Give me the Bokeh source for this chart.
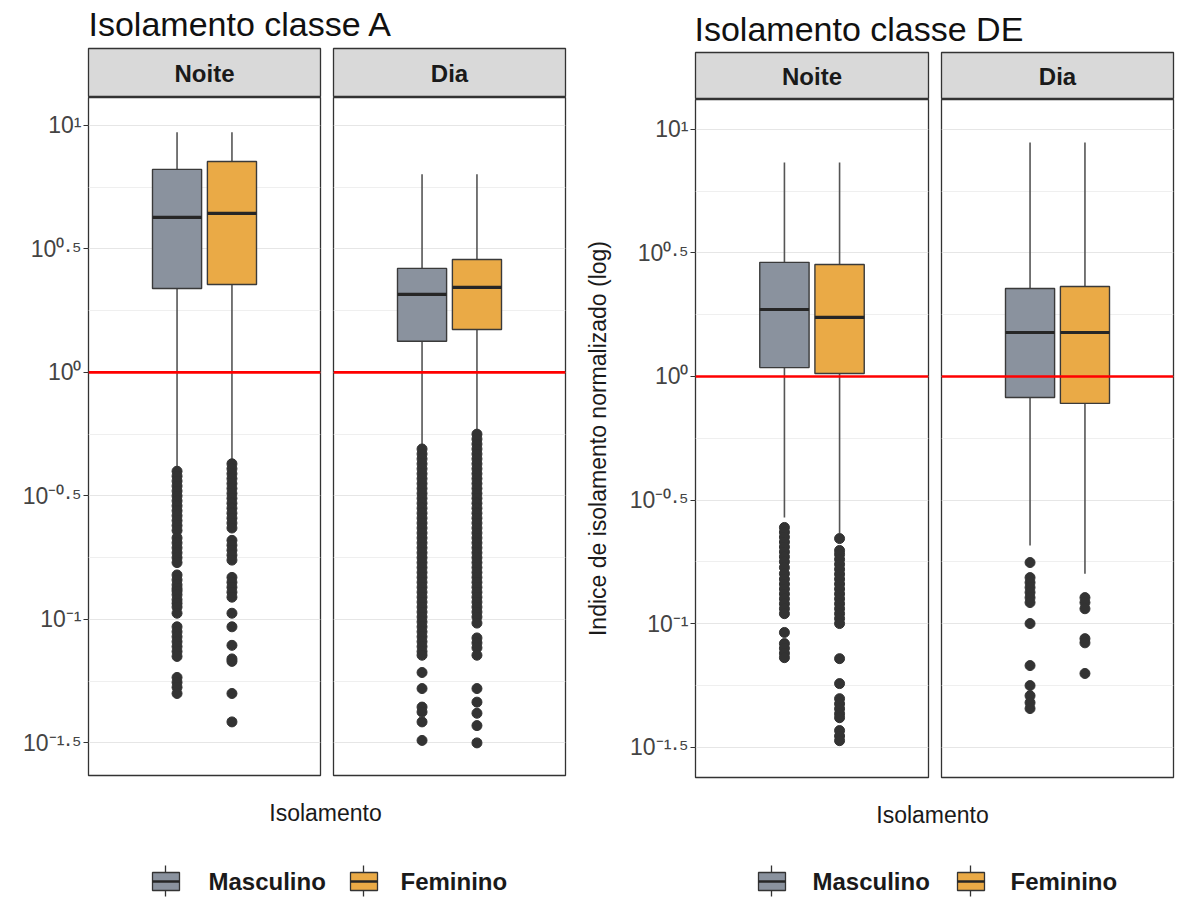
import numpy as np
from bokeh.plotting import figure
from bokeh.layouts import row, column
from bokeh.models import Range1d, FixedTicker, Grid, Span, CustomJSTickFormatter
from bokeh.core.properties import value
from bokeh.embed import file_html
from bokeh.resources import INLINE

FONT = "Liberation Sans"

# ---------------- data ----------------
titles = ["Isolamento classe A", "Isolamento classe DE"]
periods = ["Noite", "Dia"]
sexes = ["Masculino", "Feminino"]
colors = ["#8A929E", "#EAAA46"]
x_label = "Isolamento"
y_label = "Indice de isolamento normalizado (log)"
tick_exps = [-1.5, -1.0, -0.5, 0.0, 0.5, 1.0]
tick_labels = ["10⁻¹·⁵", "10⁻¹", "10⁻⁰·⁵", "10⁰", "10⁰·⁵", "10¹"]
minor_exps = [-1.25, -0.75, -0.25, 0.25, 0.75]
reference_value = 1.0

# box statistics as log10 values: [lower whisker, Q1, median, Q3, upper whisker]
A_NOITE_M_BOX = [-0.389, 0.340, 0.628, 0.822, 0.972]
A_NOITE_F_BOX = [-0.368, 0.356, 0.644, 0.854, 0.972]
A_DIA_M_BOX = [-0.308, 0.126, 0.316, 0.421, 0.802]
A_DIA_F_BOX = [-0.247, 0.174, 0.344, 0.457, 0.802]
DE_NOITE_M_BOX = [-0.571, 0.036, 0.271, 0.462, 0.866]
DE_NOITE_F_BOX = [-0.636, 0.012, 0.239, 0.453, 0.866]
DE_DIA_M_BOX = [-0.684, -0.085, 0.178, 0.356, 0.947]
DE_DIA_F_BOX = [-0.798, -0.109, 0.178, 0.364, 0.947]

# outliers as log10 values
A_NOITE_M_OUT = [-0.40, -0.42, -0.44, -0.46, -0.48, -0.50, -0.52, -0.54, -0.56, -0.58,
                 -0.60, -0.62, -0.64, -0.67, -0.69, -0.71, -0.73, -0.75, -0.77,
                 -0.82, -0.84, -0.86, -0.875, -0.885, -0.90, -0.92, -0.935, -0.95,
                 -0.975, -1.03, -1.05, -1.07, -1.09, -1.11, -1.13, -1.15,
                 -1.235, -1.255, -1.275, -1.30]
A_NOITE_F_OUT = [-0.37, -0.39, -0.41, -0.43, -0.45, -0.47, -0.49, -0.51, -0.53, -0.55,
                 -0.57, -0.59, -0.61, -0.63, -0.68, -0.70, -0.72, -0.74, -0.76,
                 -0.83, -0.85, -0.87, -0.89, -0.91, -0.975, -1.03, -1.105,
                 -1.16, -1.17, -1.30, -1.415]
A_DIA_M_OUT = [-0.31, -0.33, -0.35, -0.37, -0.39, -0.41, -0.43, -0.45, -0.47, -0.49,
               -0.51, -0.53, -0.55, -0.57, -0.59, -0.61, -0.63, -0.65, -0.67, -0.69,
               -0.71, -0.73, -0.75, -0.77, -0.79, -0.81, -0.83, -0.85, -0.87, -0.89,
               -0.91, -0.93, -0.95, -0.97, -0.99, -1.01, -1.03, -1.05, -1.07, -1.09,
               -1.11, -1.13, -1.145, -1.215, -1.28, -1.355, -1.375, -1.415, -1.49]
A_DIA_F_OUT = [-0.25, -0.27, -0.29, -0.31, -0.33, -0.35, -0.37, -0.39, -0.41, -0.43,
               -0.45, -0.47, -0.49, -0.51, -0.53, -0.55, -0.57, -0.59, -0.61, -0.63,
               -0.65, -0.67, -0.69, -0.71, -0.73, -0.75, -0.77, -0.79, -0.81, -0.83,
               -0.85, -0.87, -0.89, -0.91, -0.93, -0.95, -0.97, -0.99, -1.015,
               -1.075, -1.095, -1.115, -1.145, -1.28, -1.335, -1.38, -1.43, -1.50]
DE_NOITE_M_OUT = [-0.611, -0.63, -0.65, -0.67, -0.69, -0.71, -0.73, -0.75, -0.773,
                  -0.798, -0.82, -0.84, -0.86, -0.88, -0.90, -0.92, -0.94, -0.96,
                  -1.036, -1.081, -1.10, -1.12, -1.138]
DE_NOITE_F_OUT = [-0.656, -0.704, -0.72, -0.74, -0.76, -0.78, -0.80, -0.82, -0.84, -0.86,
                  -0.88, -0.90, -0.92, -0.94, -0.96, -0.98, -1.0, -1.142, -1.243,
                  -1.304, -1.325, -1.345, -1.365, -1.381, -1.433, -1.455, -1.474]
DE_DIA_M_OUT = [-0.753, -0.814, -0.834, -0.854, -0.874, -0.895, -0.915, -1.0, -1.17,
                -1.251, -1.292, -1.32, -1.344]
DE_DIA_F_OUT = [-0.895, -0.915, -0.94, -1.061, -1.078, -1.202]

BOXES = {
    (0, 0): [A_NOITE_M_BOX, A_NOITE_F_BOX], (0, 1): [A_DIA_M_BOX, A_DIA_F_BOX],
    (1, 0): [DE_NOITE_M_BOX, DE_NOITE_F_BOX], (1, 1): [DE_DIA_M_BOX, DE_DIA_F_BOX],
}
OUTS = {
    (0, 0): [A_NOITE_M_OUT, A_NOITE_F_OUT], (0, 1): [A_DIA_M_OUT, A_DIA_F_OUT],
    (1, 0): [DE_NOITE_M_OUT, DE_NOITE_F_OUT], (1, 1): [DE_DIA_M_OUT, DE_DIA_F_OUT],
}

# ---------------- styling ----------------
dodge = [-0.142, 0.142]
box_w = 0.254
major_vals = [10 ** e for e in tick_exps]
minor_vals = [10 ** e for e in minor_exps]
y_ranges = [(-1.632, 1.113), (-1.623, 1.121)]


def blank(w, h):
    p = figure(width=w, height=h, x_range=Range1d(0, w), y_range=Range1d(h, 0),
               output_backend="svg", toolbar_location=None,
               x_axis_location=None, y_axis_location=None,
               min_border_left=0, min_border_right=0, min_border_top=0, min_border_bottom=0)
    p.outline_line_color = None
    p.xgrid.visible = False
    p.ygrid.visible = False
    p.background_fill_color = "white"
    p.border_fill_color = "white"
    return p


def strip(label, w, h, mbl, mbr, mbt):
    p = figure(width=w, height=h, x_range=Range1d(0, 1), y_range=Range1d(0, 1),
               output_backend="svg", toolbar_location=None,
               x_axis_location=None, y_axis_location=None,
               min_border_left=mbl, min_border_right=mbr, min_border_top=mbt, min_border_bottom=0)
    p.xgrid.visible = False
    p.ygrid.visible = False
    p.background_fill_color = "#D9D9D9"
    p.border_fill_color = "white"
    p.outline_line_color = "#333333"
    p.outline_line_width = 1.3
    p.text(x=[0.5], y=[0.5], text=[label], text_font=value(FONT), text_font_size="24px",
           text_font_style="bold", text_color="#1A1A1A", text_align="center",
           text_baseline="middle")
    return p


def facet(ci, pi, w, mbl, mbr, mbb, with_axis, ylab):
    yr = y_ranges[ci]
    p = figure(width=w, height=680, x_range=Range1d(0.4, 1.6),
               y_range=Range1d(10 ** yr[0], 10 ** yr[1]), y_axis_type="log",
               output_backend="svg", toolbar_location=None,
               x_axis_location=None, y_axis_location="left" if with_axis else None,
               min_border_left=mbl, min_border_right=mbr, min_border_top=0,
               min_border_bottom=mbb)
    p.xgrid.visible = False
    p.ygrid.visible = False
    p.background_fill_color = "white"
    p.border_fill_color = "white"
    p.outline_line_color = "#333333"
    p.outline_line_width = 1.3
    p.add_layout(Grid(dimension=1, ticker=FixedTicker(ticks=major_vals, minor_ticks=minor_vals),
                      grid_line_color="#E6E6E6", grid_line_width=1.2,
                      minor_grid_line_color="#EFEFEF", minor_grid_line_width=1.0))
    if with_axis:
        ax = p.yaxis[0]
        ax.ticker = FixedTicker(ticks=major_vals)
        ax.formatter = CustomJSTickFormatter(args=dict(exps=tick_exps, labels=tick_labels), code="""
            const e = Math.log10(tick);
            let best = 0, bd = 1e9;
            for (let i = 0; i < exps.length; i++) {
                const d = Math.abs(exps[i] - e);
                if (d < bd) { bd = d; best = i; }
            }
            return labels[best];
        """)
        ax.major_label_text_font = FONT
        ax.major_label_text_font_size = "23px"
        ax.major_label_text_color = "#444444"
        ax.major_tick_out = 5
        ax.major_tick_in = 0
        ax.minor_tick_out = 0
        ax.minor_tick_in = 0
        ax.major_tick_line_color = "#333333"
        ax.major_tick_line_width = 1.2
        ax.axis_line_color = None
        ax.major_label_standoff = 2
        if ylab:
            ax.axis_label = ylab
            ax.axis_label_text_font = FONT
            ax.axis_label_text_font_size = "23px"
            ax.axis_label_text_font_style = "normal"
            ax.axis_label_text_color = "#1A1A1A"
            ax.axis_label_standoff = 16

    for si in range(len(sexes)):
        x = 1 + dodge[si]
        lo, q1, med, q3, hi = [10 ** v for v in BOXES[(ci, pi)][si]]
        p.segment(x0=[x, x], y0=[lo, q3], x1=[x, x], y1=[q1, hi],
                  line_color="#555555", line_width=1.6)
        outs = OUTS[(ci, pi)][si]
        p.scatter(x=[x] * len(outs), y=[10 ** v for v in outs], size=10,
                  fill_color="#333333", line_color="#333333")
        p.quad(left=[x - box_w / 2], right=[x + box_w / 2], bottom=[q1], top=[q3],
               fill_color=colors[si], line_color="#3A3A3A", line_width=1.4)
        p.segment(x0=[x - box_w / 2], x1=[x + box_w / 2], y0=[med], y1=[med],
                  line_color="#262626", line_width=3.2)
    p.add_layout(Span(location=reference_value, dimension="width",
                      line_color="#FF0000", line_width=2.6))
    return p


def bottom(w, h, label_x, key_xs, text_xs, cy):
    p = blank(w, h)
    p.text(x=[label_x], y=[35], text=[x_label], text_font=value(FONT), text_font_size="23px",
           text_color="#1A1A1A", text_align="center", text_baseline="middle")
    for si in range(len(sexes)):
        kx = key_xs[si]
        p.segment(x0=[kx + 13], x1=[kx + 13], y0=[cy - 16], y1=[cy + 15],
                  line_color="#333333", line_width=1.3)
        p.quad(left=[kx], right=[kx + 27], top=[cy - 9], bottom=[cy + 9],
               fill_color=colors[si], line_color="#333333", line_width=1.3)
        p.segment(x0=[kx], x1=[kx + 27], y0=[cy], y1=[cy], line_color="#262626", line_width=2.5)
        p.text(x=[text_xs[si]], y=[cy], text=[sexes[si]], text_font=value(FONT),
               text_font_size="24px", text_font_style="bold", text_color="#1A1A1A",
               text_align="left", text_baseline="middle")
    return p


# ---------------- left block (classe A) ----------------
tL = blank(580, 46)
tL.text(x=[88], y=[23], text=[titles[0]], text_font=value(FONT), text_font_size="34px",
        text_color="#111111", text_align="left", text_baseline="middle")
sL1 = strip(periods[0], 322, 51, 88, 2, 2)
sL2 = strip(periods[1], 258, 51, 11, 15, 2)
fL1 = facet(0, 0, 322, 88, 2, 2, True, None)
fL2 = facet(0, 1, 258, 11, 15, 2, False, None)
bL = bottom(580, 121, 325, [152, 350], [208, 400], 104)
left = column(tL, row(sL1, sL2), row(fL1, fL2), bL)

# ---------------- right block (classe DE) ----------------
tR = blank(596, 50)
tR.text(x=[114], y=[28], text=[titles[1]], text_font=value(FONT), text_font_size="34px",
        text_color="#111111", text_align="left", text_baseline="middle")
sR1 = strip(periods[0], 350, 49, 115, 2, 2)
sR2 = strip(periods[1], 246, 49, 11, 3, 2)
fR1 = facet(1, 0, 350, 115, 2, 2, True, y_label)
fR2 = facet(1, 1, 246, 11, 3, 2, False, None)
bR = bottom(596, 119, 352, [178, 377], [232, 430], 102)
right = column(tR, row(sR1, sR2), row(fR1, fR2), bR)

layout = row(left, right)
open("out.html", "w").write(file_html(layout, INLINE))
